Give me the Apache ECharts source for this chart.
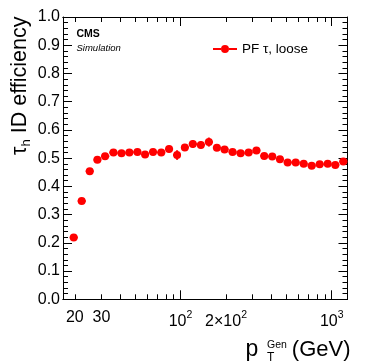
<!DOCTYPE html>
<html><head><meta charset="utf-8">
<script src="https://cdn.jsdelivr.net/npm/echarts@6/dist/echarts.min.js"></script>
<style>html,body{margin:0;padding:0;background:#fff}#c{width:374px;height:363px}</style>
</head><body><div id="c"></div>
<script>
// ---- data ----
const ptCenters = [19.66,22.2,25.1,28.2,31.7,36.0,40.7,45.9,51.9,58.3,65.8,74.6,84.0,94.9,106.8,120.6,136.3,154.0,174.0,195.6,221.0,249.7,282.1,317.8,357.8,404.3,454.6,511.2,577.6,652.5,737.1,832.7,940.8,1056.4,1193.4];
const binEdges = [18.5,20.9,23.6,26.6,29.9,33.8,38.3,43.2,48.8,55.0,61.9,70.1,79.2,89.3,100.7,113.5,128.2,144.9,163.7,184.5,207.9,234.9,265.4,299.4,337.2,380.3,428.7,482.1,543.4,613.9,693.5,783.4,885.1,996.9,1122.8,1268];
const efficiency = [0.219,0.348,0.454,0.494,0.507,0.520,0.517,0.520,0.522,0.513,0.522,0.520,0.532,0.511,0.538,0.550,0.547,0.557,0.537,0.531,0.522,0.517,0.520,0.527,0.508,0.506,0.496,0.485,0.485,0.480,0.473,0.478,0.480,0.476,0.488];
const effError = [0.005,0.005,0.005,0.005,0.005,0.005,0.006,0.006,0.006,0.010,0.007,0.010,0.012,0.017,0.012,0.014,0.013,0.016,0.011,0.010,0.008,0.007,0.007,0.007,0.007,0.007,0.007,0.007,0.007,0.007,0.007,0.007,0.007,0.007,0.008];
const xRange = [16.7, 1272];
const yRange = [0, 1];
const xMinorTicks = [20,30,40,50,60,70,80,90,200,300,400,500,600,700,800,900];
const xMajorTicks = [100,1000];
const xLabelValues = [20,30,100,200,1000];
const xLabelTexts = ['20','30','{n|10}{s|2}','{n|2×10}{s|2}','{n|10}{s|3}'];
const seriesName = 'PF τ, loose';

// ---- build ----
const L = Math.log10;
const FONT = 'Liberation Sans';
const RED = '#ff0000';
const markerData = ptCenters.map((p, i) => [L(p), efficiency[i]]);
const errData = ptCenters.map((p, i) => [L(p), efficiency[i], L(binEdges[i]), L(binEdges[i + 1]), efficiency[i] - effError[i], efficiency[i] + effError[i]]);

function xAxisDef(pos, ticks, len, labels) {
  return {
    type: 'value', position: pos, min: L(xRange[0]), max: L(xRange[1]),
    axisLine: { show: true, onZero: false, lineStyle: { color: '#000', width: 1 } },
    axisTick: { show: true, inside: true, length: len, customValues: ticks.map(L), lineStyle: { color: '#000', width: 1 } },
    splitLine: { show: false },
    axisLabel: labels ? {
      show: true, margin: 10, color: '#000', fontFamily: FONT, fontSize: 16,
      customValues: xLabelValues.map(L),
      formatter: function (v) {
        for (let i = 0; i < xLabelValues.length; i++) if (Math.abs(L(xLabelValues[i]) - v) < 1e-6) return xLabelTexts[i];
        return '';
      },
      rich: {
        n: { fontFamily: FONT, fontSize: 16, color: '#000', lineHeight: 20, verticalAlign: 'bottom' },
        s: { fontFamily: FONT, fontSize: 10.5, color: '#000', lineHeight: 12, verticalAlign: 'top' }
      }
    } : { show: false }
  };
}
function yAxisDef(pos, labels) {
  return {
    type: 'value', position: pos, min: yRange[0], max: yRange[1], interval: 0.1,
    axisLine: { show: true, onZero: false, lineStyle: { color: '#000', width: 1 } },
    axisTick: { show: true, inside: true, length: 9, lineStyle: { color: '#000', width: 1 } },
    minorTick: { show: true, splitNumber: 5, length: 5, lineStyle: { color: '#000', width: 1 } },
    splitLine: { show: false }, minorSplitLine: { show: false },
    axisLabel: labels ? { show: true, margin: 3, color: '#000', fontFamily: FONT, fontSize: 16, formatter: v => v.toFixed(1) } : { show: false }
  };
}

const chart = echarts.init(document.getElementById('c'), null, { renderer: 'canvas' });
chart.setOption({
  animation: false,
  backgroundColor: '#fff',
  grid: { left: 63, right: 26.5, top: 17, bottom: 63.7, outerBoundsMode: 'none', containLabel: false },
  xAxis: [
    xAxisDef('bottom', xMajorTicks, 9, true),
    xAxisDef('bottom', xMinorTicks, 5, false),
    xAxisDef('top', xMajorTicks, 9, false),
    xAxisDef('top', xMinorTicks, 5, false)
  ],
  yAxis: [yAxisDef('left', true), yAxisDef('right', false)],
  legend: {
    left: 213, top: 42, padding: 0, itemWidth: 24, itemHeight: 8, itemGap: 5,
    data: [{ name: seriesName, icon: 'path://M0,3L8,3L8,5L0,5Z M16,3L24,3L24,5L16,5Z M16,4A4,4,0,1,1,8,4A4,4,0,1,1,16,4Z' }],
    textStyle: { fontFamily: FONT, fontSize: 13.5, color: '#000', lineHeight: 14 },
    itemStyle: { color: RED }
  },
  series: [
    {
      name: seriesName, type: 'custom', xAxisIndex: 0, yAxisIndex: 0, z: 2,
      data: errData,
      renderItem: function (params, api) {
        const a = api.coord([api.value(2), api.value(1)]);
        const b = api.coord([api.value(3), api.value(1)]);
        const c = api.coord([api.value(0), api.value(4)]);
        const d = api.coord([api.value(0), api.value(5)]);
        const st = { stroke: RED, lineWidth: 2 };
        return { type: 'group', children: [
          { type: 'line', shape: { x1: a[0], y1: a[1], x2: b[0], y2: b[1] }, style: st },
          { type: 'line', shape: { x1: c[0], y1: c[1], x2: d[0], y2: d[1] }, style: st }
        ] };
      }
    },
    {
      name: seriesName, type: 'scatter', xAxisIndex: 0, yAxisIndex: 0, z: 3,
      symbol: 'circle', symbolSize: 8, itemStyle: { color: RED, opacity: 1 },
      data: markerData
    }
  ],
  graphic: [
    { type: 'text', x: 21, y: 16.5, rotation: Math.PI / 2, style: {
        text: '{a|τ}{h|h}{a| ID efficiency}', align: 'right', verticalAlign: 'middle',
        rich: {
          a: { fontFamily: FONT, fontSize: 21.5, lineHeight: 23, verticalAlign: 'top', fill: '#000' },
          h: { fontFamily: FONT, fontSize: 13, lineHeight: 13, verticalAlign: 'bottom', fill: '#000' }
        } } },
    { type: 'text', x: 245.5, y: 350, style: { text: 'p', fontFamily: FONT, fontSize: 23, fill: '#000', align: 'left', verticalAlign: 'middle' } },
    { type: 'text', x: 267, y: 357.5, style: { text: 'T', fontFamily: FONT, fontSize: 12, fill: '#000', align: 'left', verticalAlign: 'middle' } },
    { type: 'text', x: 267, y: 345.5, style: { text: 'Gen', fontFamily: FONT, fontSize: 10.5, fill: '#000', align: 'left', verticalAlign: 'middle' } },
    { type: 'text', x: 350.5, y: 350, style: { text: '(GeV)', fontFamily: FONT, fontSize: 22, fill: '#000', align: 'right', verticalAlign: 'middle' } },
    { type: 'text', x: 76.5, y: 34.5, style: { text: 'CMS', fontFamily: FONT, fontSize: 10.5, fontWeight: 'bold', fill: '#000', align: 'left', verticalAlign: 'middle' } },
    { type: 'text', x: 76.5, y: 48.5, style: { text: 'Simulation', fontFamily: FONT, fontSize: 9.5, fontStyle: 'italic', fill: '#000', align: 'left', verticalAlign: 'middle' } }
  ]
});
</script></body></html>
